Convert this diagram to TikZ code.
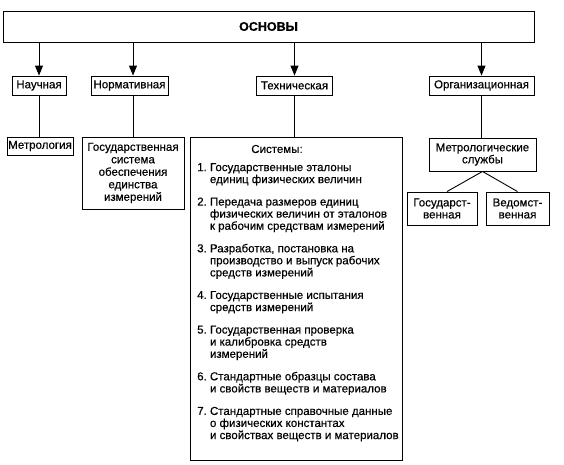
\documentclass[tikz,border=0pt]{standalone}
\usepackage{fontspec}
\setmainfont{Liberation Sans}[FakeBold=0.4]
\usetikzlibrary{arrows.meta,calc}
\begin{document}
\begin{tikzpicture}[x=1pt,y=-1pt,
  box/.style={draw, line width=0.9pt, inner sep=0pt, align=center,
    font=\fontsize{11.5}{12.5}\selectfont},
  conn/.style={line width=0.9pt},
  arr/.style={line width=0.9pt, -{Triangle[length=10pt,width=8pt]}}]
\useasboundingbox (0,0) rectangle (564,464);
% top
\node[box, minimum width=531pt, minimum height=31pt, font=\fontsize{12.5}{14}\selectfont\bfseries] (osnovy) at (268.5,26.5) {ОСНОВЫ};
% level 2
\node[box, minimum width=54pt, minimum height=19pt] (nauch) at (39,85.5) {Научная};
\node[box, minimum width=77pt, minimum height=19pt] (norm) at (129.5,85.5) {Нормативная};
\node[box, minimum width=76pt, minimum height=19pt] (tech) at (294.5,85.5) {Техническая};
\node[box, minimum width=105pt, minimum height=19pt] (org) at (481.5,85.5) {Организационная};
% level 3
\node[box, minimum width=66pt, minimum height=18pt] (metr) at (40,146) {Метрология};
\node[box, minimum width=102pt, minimum height=72pt] (gos) at (133,173) {Государственная\\система\\обеспечения\\единства\\измерений};
\node[box, minimum width=212pt, minimum height=323pt] (techbox) at (296,298.5) {};
\node[font=\fontsize{11.5}{12.5}\selectfont, inner sep=0pt] (sys) at (277,149) {Системы:};
\node[anchor=north west, inner sep=0pt, font=\fontsize{11.5}{12}\selectfont] (techtext) at (197,162.5) {%
\renewcommand{\arraystretch}{1}%
\begin{tabular}{@{}l@{\ }l@{}}
1. & Государственные эталоны\\
   & единиц физических величин\\[10.5pt]
2. & Передача размеров единиц\\
   & физических величин от эталонов\\
   & к рабочим средствам измерений\\[10.5pt]
3. & Разработка, постановка на\\
   & производство и выпуск рабочих\\
   & средств измерений\\[10.5pt]
4. & Государственные испытания\\
   & средств измерений\\[10.5pt]
5. & Государственная проверка\\
   & и калибровка средств\\
   & измерений\\[10.5pt]
6. & Стандартные образцы состава\\
   & и свойств веществ и материалов\\[10.5pt]
7. & Стандартные справочные данные\\
   & о физических константах\\
   & и свойствах веществ и материалов
\end{tabular}};
\node[box, minimum width=107pt, minimum height=33pt, font=\fontsize{11.5}{12}\selectfont] (ms) at (482.5,154.5) {Метрологические\\службы};
\node[box, minimum width=70pt, minimum height=33pt, font=\fontsize{11.5}{12}\selectfont] (gosv) at (442,208.5) {Государст-\\венная};
\node[box, minimum width=63pt, minimum height=33pt, font=\fontsize{11.5}{12}\selectfont] (ved) at (517.5,208.5) {Ведомст-\\венная};
% arrows
\draw[arr] (nauch.north |- osnovy.south) -- (nauch.north);
\draw[arr] (gos.north |- osnovy.south) -- (gos.north |- norm.north);
\draw[arr] (tech.north |- osnovy.south) -- (tech.north);
\draw[arr] (org.north |- osnovy.south) -- (org.north);
% connectors
\draw[conn] (nauch.south) -- (nauch.south |- metr.north);
\draw[conn] (gos.north |- norm.south) -- (gos.north);
\draw[conn] (tech.south) -- (tech.south |- techbox.north);
\draw[conn] (org.south) -- (org.south |- ms.north);
\draw[conn] (ms.south) -- ($(gosv.north)+(5,0)$);
\draw[conn] (ms.south) -- (ved.north);
\end{tikzpicture}
\end{document}
